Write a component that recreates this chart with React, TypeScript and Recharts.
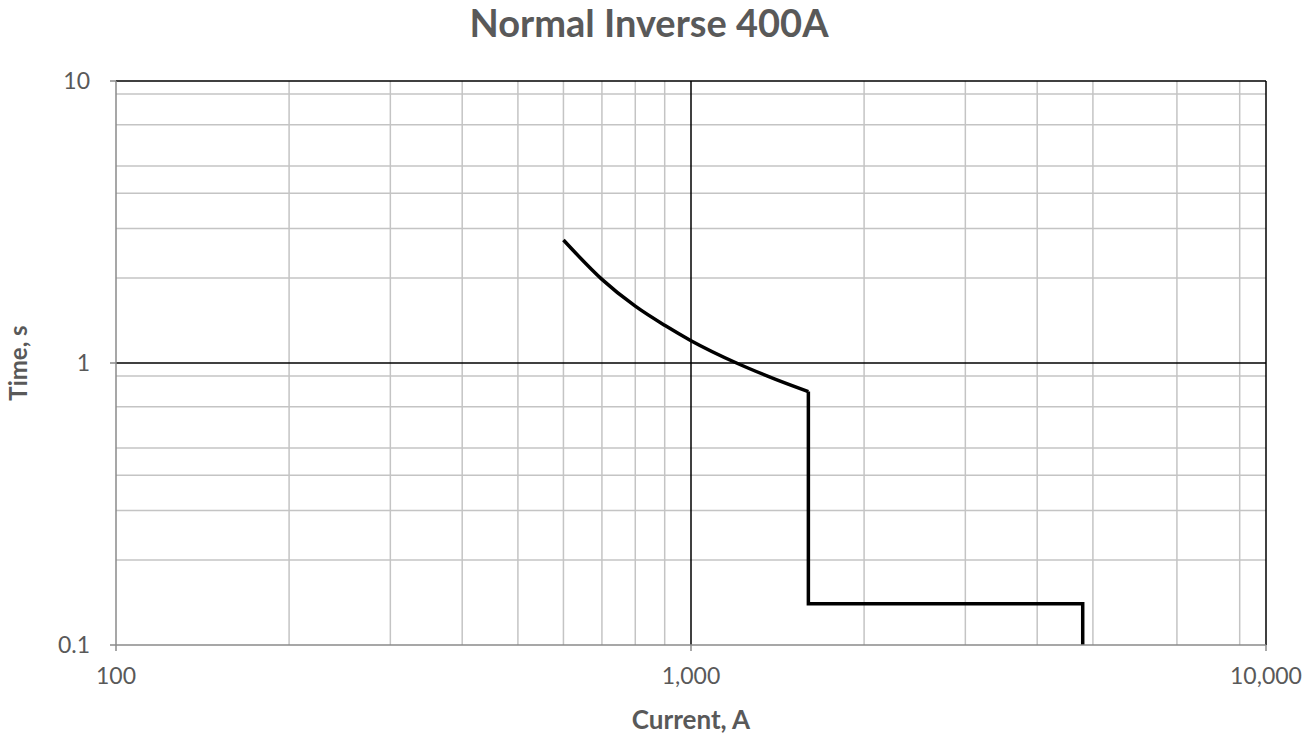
import {
  CartesianGrid,
  ComposedChart,
  Label,
  Line,
  XAxis,
  YAxis,
} from "recharts";

// (current in A, trip time in s)
const curveCurrent = [600, 700, 800, 900, 1000, 1200, 1400, 1600];
const curveTime = [2.73, 1.98, 1.59, 1.36, 1.2, 1.0, 0.877, 0.792];
// definite-time tail: drop at 1600 A, flat at 0.14 s up to 4800 A
const stepCurrent = [1600, 1600, 4800, 4800];
const stepTime = [0.792, 0.14, 0.14, 0.1];

const xTicks = [100, 1000, 10000];
const yTicks = [0.1, 1, 10];
const xMinor = [200, 300, 400, 500, 600, 700, 800, 900, 2000, 3000, 4000, 5000, 6000, 7000, 8000, 9000];
const yMinor = [0.2, 0.3, 0.4, 0.5, 0.6, 0.7, 0.8, 0.9, 2, 3, 4, 5, 6, 7, 8, 9];
const xMajor = [1000, 10000];
const yMajor = [1, 10];

const FONT = "Lato, 'Open Sans', sans-serif";
const GRAY = "#595959";

export default function App() {
  const curve = curveCurrent.map((c, i) => ({ current: c, time: curveTime[i] }));
  const step = stepCurrent.map((c, i) => ({ current: c, time: stepTime[i] }));

  return (
    <div
      style={{
        position: "absolute",
        left: 0,
        top: 0,
        width: 1315,
        height: 740,
        background: "#fff",
        fontFamily: FONT,
      }}
    >
      <div
        style={{
          position: "absolute",
          left: 0,
          top: -1,
          width: 1298,
          textAlign: "center",
          fontSize: 38,
          fontWeight: 700,
          color: GRAY,
        }}
      >
        Normal Inverse 400A
      </div>
      <ComposedChart
        width={1315}
        height={740}
        margin={{ top: 81, right: 49, left: 50, bottom: 45 }}
      >
        <CartesianGrid
          stroke="#c4c4c4"
          strokeWidth={1.5}
          horizontalValues={yMinor}
          verticalValues={xMinor}
        />
        <CartesianGrid
          stroke="#000"
          strokeWidth={1.5}
          horizontalValues={yMajor}
          verticalValues={xMajor}
        />
        <XAxis
          dataKey="current"
          type="number"
          scale="log"
          domain={[100, 10000]}
          ticks={xTicks}
          allowDataOverflow
          height={50}
          stroke="#8a8a8a"
          strokeWidth={1.5}
          tickSize={6}
          tickMargin={17}
          tick={{ fontSize: 23, fill: GRAY, fontFamily: FONT }}
          tickFormatter={(v: number) => v.toLocaleString("en-US")}
        >
          <Label
            value="Current, A"
            position="insideBottom"
            offset={-34}
            style={{ fontSize: 26, fontWeight: 700, fill: GRAY, fontFamily: FONT }}
          />
        </XAxis>
        <YAxis
          dataKey="time"
          type="number"
          scale="log"
          domain={[0.1, 10]}
          ticks={yTicks}
          allowDataOverflow
          width={66}
          stroke="#8a8a8a"
          strokeWidth={1.5}
          tickSize={6}
          tickMargin={20}
          tick={{ fontSize: 23, fill: GRAY, fontFamily: FONT }}
        >
          <Label
            value="Time, s"
            angle={-90}
            position="insideLeft"
            offset={-32}
            style={{ fontSize: 24, fontWeight: 700, fill: GRAY, fontFamily: FONT, textAnchor: "middle" }}
          />
        </YAxis>
        <Line
          data={curve}
          dataKey="time"
          type="monotone"
          stroke="#000"
          strokeWidth={3.5}
          dot={false}
          isAnimationActive={false}
        />
        <Line
          data={step}
          dataKey="time"
          type="linear"
          stroke="#000"
          strokeWidth={3.5}
          dot={false}
          isAnimationActive={false}
        />
      </ComposedChart>
    </div>
  );
}
